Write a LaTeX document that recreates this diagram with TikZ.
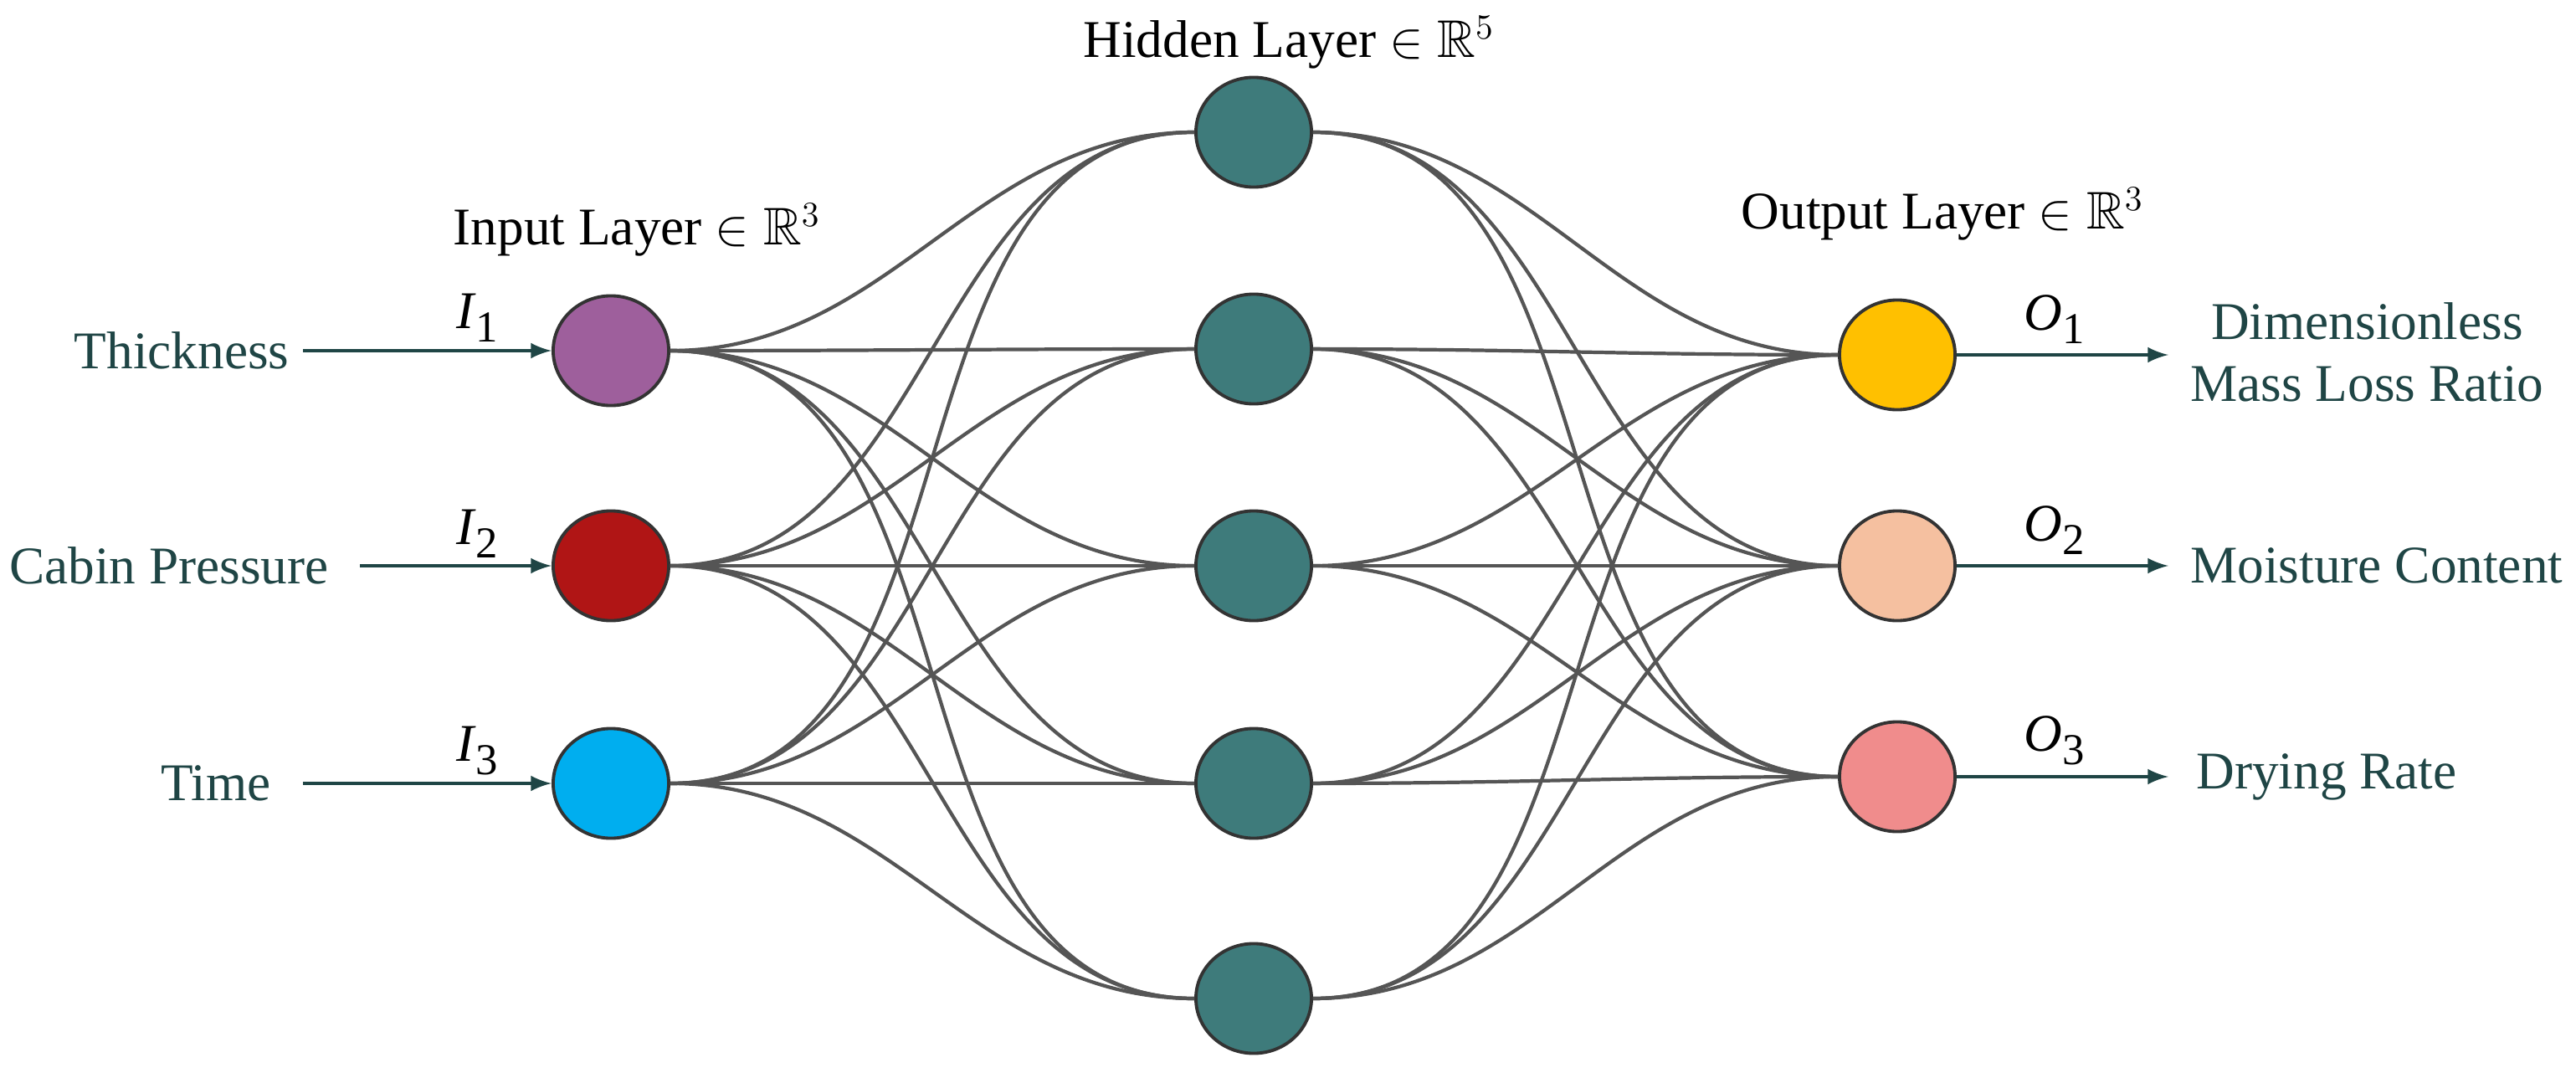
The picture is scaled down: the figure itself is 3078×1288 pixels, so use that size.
\documentclass[tikz,border=0pt]{standalone}
\usepackage{amssymb}
\usepackage{fontspec}
\setmainfont{Liberation Serif}
\usetikzlibrary{shapes.geometric}

\definecolor{txt}{HTML}{1F4545}
\definecolor{edge}{HTML}{555555}
\definecolor{inA}{HTML}{9E5F9C}
\definecolor{inB}{HTML}{B01515}
\definecolor{inC}{HTML}{00AEEF}
\definecolor{hid}{HTML}{3E7B7B}
\definecolor{outA}{HTML}{FFC000}
\definecolor{outB}{HTML}{F5C0A0}
\definecolor{outC}{HTML}{F08C8C}

\tikzset{
  neuron/.style={ellipse, draw=black!80, line width=1.1pt, minimum width=1.38cm, minimum height=1.31cm, inner sep=0pt},
  link/.style={edge, line width=1.2pt},
  feed/.style={->, >=latex, txt, line width=1.4pt},
  lbl/.style={font=\fontsize{18}{21}\selectfont, text=txt},
  idx/.style={font=\fontsize{18}{21}\selectfont},
  title/.style={font=\fontsize{18}{21}\selectfont}
}

\newcommand{\sub}[2]{\textit{#1}\raisebox{-0.55ex}{\fontsize{15}{18}\selectfont #2}}

\begin{document}
\begin{tikzpicture}[x=0.01cm, y=-0.01cm]

  \useasboundingbox (0,0) rectangle (3078,1288);

  % input layer
  \node[neuron, fill=inA] (i1) at (730,419) {};
  \node[neuron, fill=inB] (i2) at (730,676) {};
  \node[neuron, fill=inC] (i3) at (730,936) {};

  % hidden layer
  \node[neuron, fill=hid] (h1) at (1498,158) {};
  \node[neuron, fill=hid] (h2) at (1498,417) {};
  \node[neuron, fill=hid] (h3) at (1498,676) {};
  \node[neuron, fill=hid] (h4) at (1498,936) {};
  \node[neuron, fill=hid] (h5) at (1498,1193) {};

  % output layer
  \node[neuron, fill=outA] (o1) at (2267,424) {};
  \node[neuron, fill=outB] (o2) at (2267,676) {};
  \node[neuron, fill=outC] (o3) at (2267,928) {};

  % links
  \foreach \i in {1,2,3}
    \foreach \h in {1,...,5}
      \draw[link] (i\i.east) to[out=0, in=180] (h\h.west);
  \foreach \h in {1,...,5}
    \foreach \o in {1,2,3}
      \draw[link] (h\h.east) to[out=0, in=180] (o\o.west);

  % titles
  \node[title] (tin) at (761,275) {Input Layer $\in\mathbb{R}^3$};
  \node[title] (thid) at (1540,51) {Hidden Layer $\in\mathbb{R}^5$};
  \node[title] (tout) at (2321,256) {Output Layer $\in\mathbb{R}^3$};

  % inputs
  \node[lbl, anchor=east] (x1) at (358,419) {Thickness};
  \node[lbl, anchor=east] (x2) at (405,676) {Cabin Pressure};
  \node[lbl, anchor=east] (x3) at (336,936) {Time};
  \coordinate (a1) at (362,419);
  \coordinate (a2) at (430,676);
  \coordinate (a3) at (362,936);
  \foreach \k in {1,2,3}
    \draw[feed] (a\k) -- (i\k.west);
  \node[idx] (l1) at (570,380) {\sub{I}{1}};
  \node[idx] (l2) at (570,638) {\sub{I}{2}};
  \node[idx] (l3) at (570,897) {\sub{I}{3}};

  % outputs
  \coordinate (b1) at (2591,424);
  \coordinate (b2) at (2591,676);
  \coordinate (b3) at (2591,928);
  \foreach \k in {1,2,3}
    \draw[feed] (o\k.east) -- (b\k);
  \node[idx] (m1) at (2455,382) {\sub{O}{1}};
  \node[idx] (m2) at (2455,634) {\sub{O}{2}};
  \node[idx] (m3) at (2455,885) {\sub{O}{3}};
  \node[lbl, align=center, anchor=west] (y1) at (2605,421) {Dimensionless\\Mass Loss Ratio};
  \node[lbl, anchor=west] (y2) at (2605,676) {Moisture Content};
  \node[lbl, anchor=west] (y3) at (2612,928) {Drying Rate};

\end{tikzpicture}
\end{document}
